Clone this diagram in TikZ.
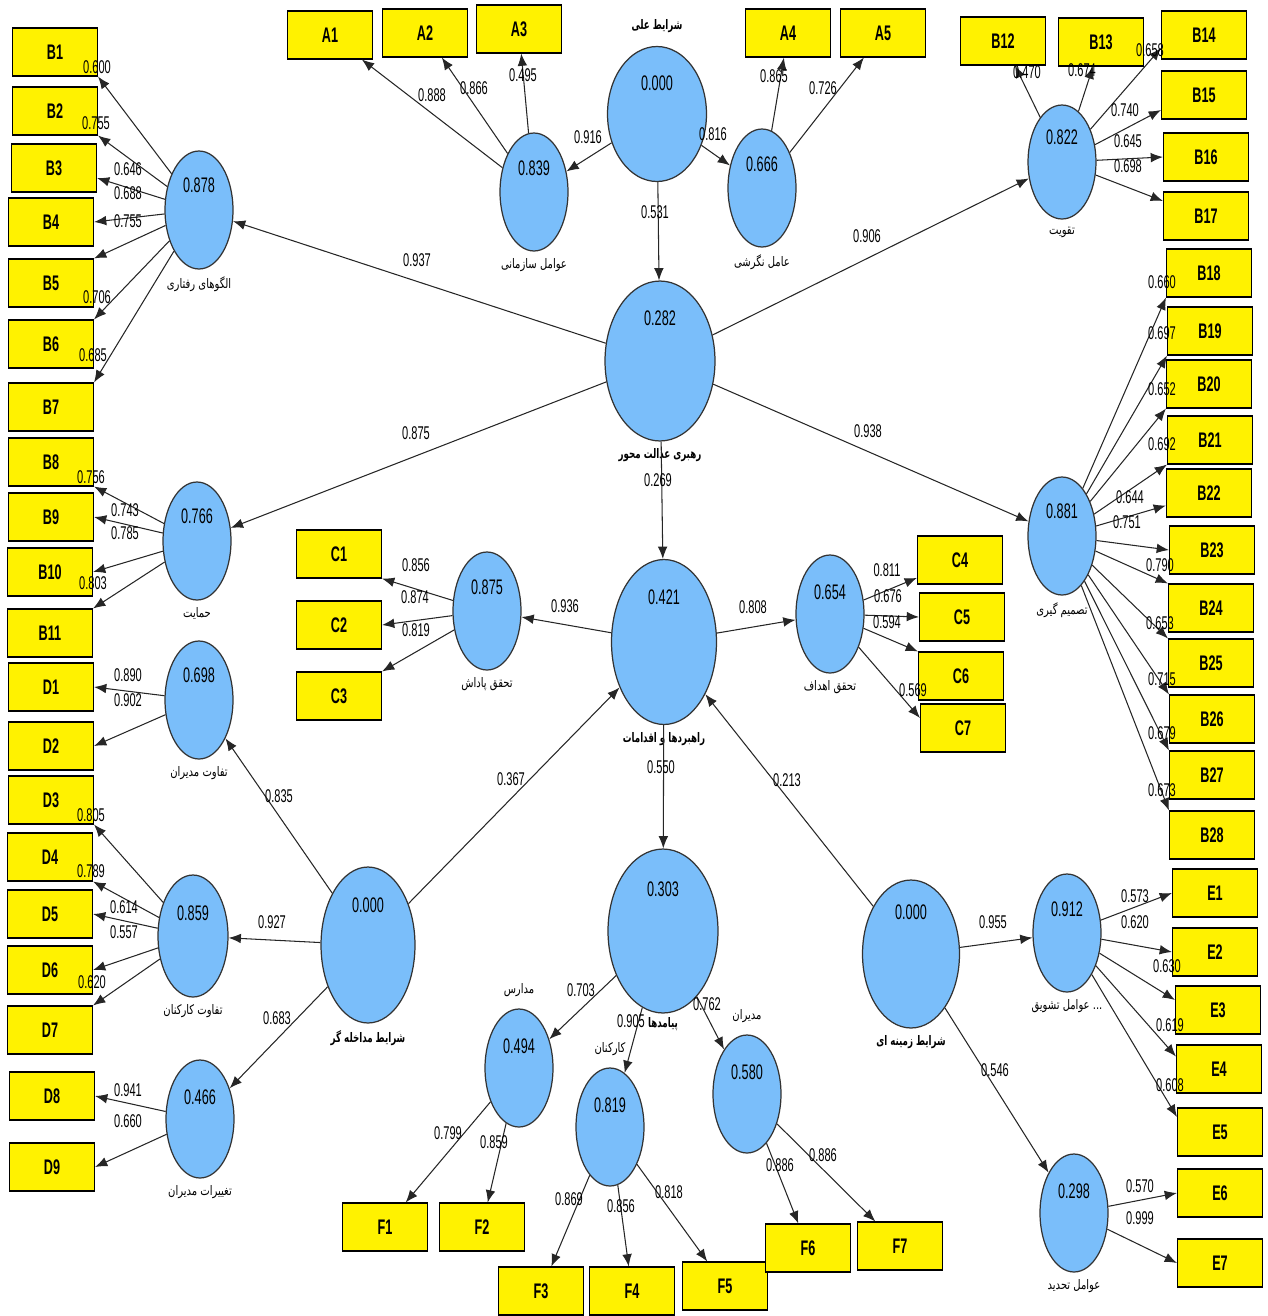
\documentclass[tikz,border=0pt]{standalone}
\usepackage{fontspec}
\usepackage{tikz}
\usetikzlibrary{shapes.geometric,arrows.meta,positioning}
\TeXXeTstate=1
\newfontfamily\numfont[FakeStretch=0.6]{Liberation Sans}
\newfontfamily\fafont[Script=Arabic,FakeStretch=0.76,BoldFeatures={FakeStretch=0.66}]{DejaVu Sans}
\newcommand{\fa}[1]{\beginR#1\endR}
\definecolor{latblue}{RGB}{122,190,250}

\tikzset{
  latent/.style={ellipse, draw=black!80, fill=latblue, line width=0.7pt, inner sep=0pt,
    minimum width=1.36cm, minimum height=2.36cm},
  indic/.style={rectangle, draw=black, fill=yellow, line width=0.6pt, minimum width=1.7cm,
    minimum height=0.96cm, font=\numfont\bfseries\fontsize{12}{12}\selectfont},
  lvval/.style={font=\numfont\fontsize{12}{12}\selectfont, inner sep=0pt},
  coef/.style={font=\numfont\fontsize{10.5}{10.5}\selectfont, inner sep=0pt},
  lvname/.style={font=\fafont\fontsize{7.5}{8}\selectfont, inner sep=1pt},
  lvbold/.style={font=\fafont\bfseries\fontsize{7.5}{8}\selectfont, inner sep=1pt},
  arr/.style={draw=black!85, line width=0.6pt, -{Latex[length=7pt,width=5.5pt]}},
}

\begin{document}
\begin{tikzpicture}[x=0.02cm,y=-0.02cm]

    \useasboundingbox (0,0) rectangle (1268,1316);

    % Latent variables: causal conditions
    \node[latent, minimum width=1.98cm, minimum height=2.7cm] (causal) at (657,114) {};
    \node[lvval] at ([yshift=0.62cm]causal.center) {0.000};
    \node[lvbold, above=0.22cm of causal] (causal-n) {\fa{شرایط علی}};

    \node[latent] (org) at (534,192) {};
    \node[lvval] at ([yshift=0.48cm]org.center) {0.839};
    \node[lvname, below=0.1cm of org] (org-n) {\fa{عوامل سازمانی}};

    \node[latent] (attit) at (762,188) {};
    \node[lvval] at ([yshift=0.48cm]attit.center) {0.666};
    \node[lvname, below=0.1cm of attit] (attit-n) {\fa{عامل نگرشی}};

    % Latent variables: leadership and its dimensions
    \node[latent, minimum width=2.2cm, minimum height=3.2cm] (leader) at (660,361) {};
    \node[lvval] at ([yshift=0.86cm]leader.center) {0.282};
    \node[lvbold, below=0.1cm of leader] (leader-n) {\fa{رهبری عدالت محور}};

    \node[latent, minimum height=2.28cm] (reinf) at (1062,162) {};
    \node[lvval] at ([yshift=0.5cm]reinf.center) {0.822};
    \node[lvname, below=0.1cm of reinf] (reinf-n) {\fa{تقویت}};

    \node[latent] (behav) at (199,210) {};
    \node[lvval] at ([yshift=0.5cm]behav.center) {0.878};
    \node[lvname, below=0.1cm of behav] (behav-n) {\fa{الگوهای رفتاری}};

    \node[latent] (support) at (197,541) {};
    \node[lvval] at ([yshift=0.5cm]support.center) {0.766};
    \node[lvname, below=0.1cm of support] (support-n) {\fa{حمایت}};

    \node[latent] (decis) at (1062,536) {};
    \node[lvval] at ([yshift=0.5cm]decis.center) {0.881};
    \node[lvname, below=0.1cm of decis] (decis-n) {\fa{تصمیم گیری}};

    % Latent variables: strategies
    \node[latent, minimum width=2.1cm, minimum height=3.3cm] (strat) at (664,642) {};
    \node[lvval] at ([yshift=0.9cm]strat.center) {0.421};
    \node[lvbold, below=0.1cm of strat] (strat-n) {\fa{راهبردها و اقدامات}};

    \node[latent] (reward) at (487,611) {};
    \node[lvval] at ([yshift=0.48cm]reward.center) {0.875};
    \node[lvname, below=0.1cm of reward] (reward-n) {\fa{تحقق پاداش}};

    \node[latent] (goals) at (830,614) {};
    \node[lvval] at ([yshift=0.44cm]goals.center) {0.654};
    \node[lvname, below=0.1cm of goals] (goals-n) {\fa{تحقق اهداف}};

    % Latent variables: intervening conditions
    \node[latent, minimum width=1.88cm, minimum height=3.12cm] (interv) at (368,945) {};
    \node[lvval] at ([yshift=0.8cm]interv.center) {0.000};
    \node[lvbold, below=0.1cm of interv] (interv-n) {\fa{شرایط مداخله گر}};

    \node[latent] (mgrdiff) at (199,700) {};
    \node[lvval] at ([yshift=0.5cm]mgrdiff.center) {0.698};
    \node[lvname, below=0.1cm of mgrdiff] (mgrdiff-n) {\fa{تفاوت مدیران}};

    \node[latent, minimum width=1.4cm, minimum height=2.44cm] (empdiff) at (193,936) {};
    \node[lvval] at ([yshift=0.46cm]empdiff.center) {0.859};
    \node[lvname, below=0.1cm of empdiff] (empdiff-n) {\fa{تفاوت کارکنان}};

    \node[latent] (mgrchg) at (200,1119) {};
    \node[lvval] at ([yshift=0.44cm]mgrchg.center) {0.466};
    \node[lvname, below=0.1cm of mgrchg] (mgrchg-n) {\fa{تغییرات مدیران}};

    % Latent variables: outcomes
    \node[latent, minimum width=2.2cm, minimum height=3.28cm] (outc) at (663,931) {};
    \node[lvval] at ([yshift=0.84cm]outc.center) {0.303};
    \node[lvbold, below=0.04cm of outc] (outc-n) {\fa{پیامدها}};

    \node[latent] (school) at (519,1068) {};
    \node[lvval] at ([yshift=0.44cm]school.center) {0.494};
    \node[lvname, above=0.2cm of school] (school-n) {\fa{مدارس}};

    \node[latent] (staff) at (610,1127) {};
    \node[lvval] at ([yshift=0.44cm]staff.center) {0.819};
    \node[lvname, above=0.2cm of staff] (staff-n) {\fa{کارکنان}};

    \node[latent] (mgr) at (747,1094) {};
    \node[lvval] at ([yshift=0.44cm]mgr.center) {0.580};
    \node[lvname, above=0.2cm of mgr] (mgr-n) {\fa{مدیران}};

    % Latent variables: contextual conditions
    \node[latent, minimum width=1.94cm, minimum height=2.96cm] (context) at (911,954) {};
    \node[lvval] at ([yshift=0.84cm]context.center) {0.000};
    \node[lvbold, below=0.1cm of context] (context-n) {\fa{شرایط زمینه ای}};

    \node[latent] (encour) at (1067,933) {};
    \node[lvval] at ([yshift=0.48cm]encour.center) {0.912};
    \node[lvname, below=0.1cm of encour] (encour-n) {\fa{عوامل تشویق} ...};

    \node[latent] (limit) at (1074,1213) {};
    \node[lvval] at ([yshift=0.44cm]limit.center) {0.298};
    \node[lvname, below=0.1cm of limit] (limit-n) {\fa{عوامل تحدید}};

    % Indicators A
    \node[indic] (A1) at (330,35) {A1};
    \node[indic] (A2) at (425,33) {A2};
    \node[indic] (A3) at (519,29) {A3};
    \node[indic] (A4) at (788,33) {A4};
    \node[indic] (A5) at (883,33) {A5};

    % Indicators B (left)
    \node[indic] (B1) at (55,52) {B1};
    \node[indic] (B2) at (55,111) {B2};
    \node[indic] (B3) at (54,168) {B3};
    \node[indic] (B4) at (51,222) {B4};
    \node[indic] (B5) at (51,283) {B5};
    \node[indic] (B6) at (51,344) {B6};
    \node[indic] (B7) at (51,407) {B7};
    \node[indic] (B8) at (51,462) {B8};
    \node[indic] (B9) at (51,517) {B9};
    \node[indic] (B10) at (50,572) {B10};
    \node[indic] (B11) at (50,633) {B11};

    % Indicators B (right)
    \node[indic] (B12) at (1003,41) {B12};
    \node[indic] (B13) at (1101,42) {B13};
    \node[indic] (B14) at (1204,35) {B14};
    \node[indic] (B15) at (1204,95) {B15};
    \node[indic] (B16) at (1206,157) {B16};
    \node[indic] (B17) at (1206,216) {B17};
    \node[indic] (B18) at (1209,273) {B18};
    \node[indic] (B19) at (1210,331) {B19};
    \node[indic] (B20) at (1209,384) {B20};
    \node[indic] (B21) at (1210,440) {B21};
    \node[indic] (B22) at (1209,493) {B22};
    \node[indic] (B23) at (1212,550) {B23};
    \node[indic] (B24) at (1211,608) {B24};
    \node[indic] (B25) at (1211,663) {B25};
    \node[indic] (B26) at (1212,719) {B26};
    \node[indic] (B27) at (1212,775) {B27};
    \node[indic] (B28) at (1212,835) {B28};

    % Indicators C
    \node[indic] (C1) at (339,554) {C1};
    \node[indic] (C2) at (339,625) {C2};
    \node[indic] (C3) at (339,696) {C3};
    \node[indic] (C4) at (960,560) {C4};
    \node[indic] (C5) at (962,617) {C5};
    \node[indic] (C6) at (961,676) {C6};
    \node[indic] (C7) at (963,728) {C7};

    % Indicators D
    \node[indic] (D1) at (51,687) {D1};
    \node[indic] (D2) at (51,746) {D2};
    \node[indic] (D3) at (51,800) {D3};
    \node[indic] (D4) at (50,857) {D4};
    \node[indic] (D5) at (50,914) {D5};
    \node[indic] (D6) at (50,970) {D6};
    \node[indic] (D7) at (50,1030) {D7};
    \node[indic] (D8) at (52,1096) {D8};
    \node[indic] (D9) at (52,1167) {D9};

    % Indicators E
    \node[indic] (E1) at (1215,893) {E1};
    \node[indic] (E2) at (1215,952) {E2};
    \node[indic] (E3) at (1218,1010) {E3};
    \node[indic] (E4) at (1219,1069) {E4};
    \node[indic] (E5) at (1220,1132) {E5};
    \node[indic] (E6) at (1220,1193) {E6};
    \node[indic] (E7) at (1220,1263) {E7};

    % Indicators F
    \node[indic] (F1) at (385,1227) {F1};
    \node[indic] (F2) at (482,1227) {F2};
    \node[indic] (F3) at (541,1291) {F3};
    \node[indic] (F4) at (632,1291) {F4};
    \node[indic] (F5) at (725,1286) {F5};
    \node[indic] (F6) at (808,1248) {F6};
    \node[indic] (F7) at (900,1246) {F7};

    % Path coefficients between latent variables
    \draw[arr] (causal) -- (org);      \node[coef] (p1) at (588,137) {0.916};
    \draw[arr] (causal) -- (attit);    \node[coef] (p2) at (713,134) {0.816};
    \draw[arr] (causal) -- (leader);   \node[coef] (p3) at (655,212) {0.531};
    \draw[arr] (leader) -- (behav);    \node[coef] (p4) at (417,260) {0.937};
    \draw[arr] (leader) -- (reinf);    \node[coef] (p5) at (867,236) {0.906};
    \draw[arr] (leader) -- (support);  \node[coef] (p6) at (416,433) {0.875};
    \draw[arr] (leader) -- (decis);    \node[coef] (p7) at (868,431) {0.938};
    \draw[arr] (leader) -- (strat);    \node[coef] (p8) at (658,480) {0.269};
    \draw[arr] (strat) -- (reward);    \node[coef] (p9) at (565,606) {0.936};
    \draw[arr] (strat) -- (goals);     \node[coef] (p10) at (753,607) {0.808};
    \draw[arr] (strat) -- (outc);      \node[coef] (p11) at (661,767) {0.550};
    \draw[arr] (interv) -- (mgrdiff);  \node[coef] (p12) at (279,796) {0.835};
    \draw[arr] (interv) -- (empdiff);  \node[coef] (p13) at (272,922) {0.927};
    \draw[arr] (interv) -- (mgrchg);   \node[coef] (p14) at (277,1018) {0.683};
    \draw[arr] (interv) -- (strat);    \node[coef] (p15) at (511,779) {0.367};
    \draw[arr] (context) -- (strat);   \node[coef] (p16) at (787,780) {0.213};
    \draw[arr] (context) -- (encour);  \node[coef] (p17) at (993,922) {0.955};
    \draw[arr] (context) -- (limit);   \node[coef] (p18) at (995,1070) {0.546};
    \draw[arr] (outc) -- (school);     \node[coef] (p19) at (581,990) {0.703};
    \draw[arr] (outc) -- (staff);      \node[coef] (p20) at (631,1021) {0.905};
    \draw[arr] (outc) -- (mgr);        \node[coef] (p21) at (707,1004) {0.762};

    % Outer loadings A
    \draw[arr] (org) -- (A1);    \node[coef] at (432,95) {0.888};
    \draw[arr] (org) -- (A2);    \node[coef] at (474,88) {0.866};
    \draw[arr] (org) -- (A3);    \node[coef] at (523,75) {0.495};
    \draw[arr] (attit) -- (A4);  \node[coef] at (774,76) {0.865};
    \draw[arr] (attit) -- (A5);  \node[coef] at (823,88) {0.726};

    % Outer loadings B
    \draw[arr] (behav) -- (B1.south east);    \node[coef] at (97,67) {0.600};
    \draw[arr] (behav) -- (B2.south east);    \node[coef] at (96,123) {0.755};
    \draw[arr] (behav) -- ([yshift=-0.2cm]B3.east); \node[coef] at (128,169) {0.646};
    \draw[arr] (behav) -- (B4.east);          \node[coef] at (128,193) {0.688};
    \draw[arr] (behav) -- (B5.north east);    \node[coef] at (128,221) {0.755};
    \draw[arr] (behav) -- (B6.north east);    \node[coef] at (97,297) {0.706};
    \draw[arr] (behav) -- (B7.north east);    \node[coef] at (93,355) {0.685};
    \draw[arr] (support) -- (B8.south east);  \node[coef] at (91,477) {0.756};
    \draw[arr] (support) -- (B9.east);        \node[coef] at (125,510) {0.743};
    \draw[arr] (support) -- (B10.east);       \node[coef] at (125,533) {0.785};
    \draw[arr] (support) -- (B11.north east); \node[coef] at (93,583) {0.803};
    \draw[arr] (reinf) -- (B12);              \node[coef] at (1027,72) {0.470};
    \draw[arr] (reinf) -- (B13);              \node[coef] at (1082,70) {0.674};
    \draw[arr] (reinf) -- ([yshift=-0.26cm]B14.west); \node[coef] at (1150,50) {0.658};
    \draw[arr] (reinf) -- ([yshift=-0.3cm]B15.west);  \node[coef] at (1125,110) {0.740};
    \draw[arr] (reinf) -- (B16.west);         \node[coef] at (1128,141) {0.645};
    \draw[arr] (reinf) -- ([yshift=0.3cm]B17.west);   \node[coef] at (1128,166) {0.698};
    \draw[arr] (decis) -- (B18.south west);   \node[coef] at (1162,282) {0.660};
    \draw[arr] (decis) -- (B19.south west);   \node[coef] at (1162,333) {0.697};
    \draw[arr] (decis) -- (B20.south west);   \node[coef] at (1162,389) {0.652};
    \draw[arr] (decis) -- (B21.south west);   \node[coef] at (1162,444) {0.692};
    \draw[arr] (decis) -- ([yshift=-0.25cm]B22.west); \node[coef] at (1130,497) {0.644};
    \draw[arr] (decis) -- (B23.west);         \node[coef] at (1127,522) {0.751};
    \draw[arr] (decis) -- (B24.north west);   \node[coef] at (1160,565) {0.790};
    \draw[arr] (decis) -- (B25.north west);   \node[coef] at (1160,623) {0.653};
    \draw[arr] (decis) -- (B26.north west);   \node[coef] at (1162,679) {0.715};
    \draw[arr] (decis) -- (B27.north west);   \node[coef] at (1162,733) {0.679};
    \draw[arr] (decis) -- (B28.north west);   \node[coef] at (1162,790) {0.673};

    % Outer loadings C
    \draw[arr] (reward) -- (C1.south east);  \node[coef] at (416,565) {0.856};
    \draw[arr] (reward) -- (C2.east);        \node[coef] at (415,597) {0.874};
    \draw[arr] (reward) -- (C3.north east);  \node[coef] at (416,630) {0.819};
    \draw[arr] (goals) -- (C4);              \node[coef] at (887,570) {0.811};
    \draw[arr] (goals) -- (C5.west);         \node[coef] at (888,596) {0.676};
    \draw[arr] (goals) -- (C6.north west);   \node[coef] at (887,622) {0.594};
    \draw[arr] (goals) -- ([yshift=0.2cm]C7.west); \node[coef] at (913,690) {0.569};

    % Outer loadings D
    \draw[arr] (mgrdiff) -- (D1.east);        \node[coef] at (128,675) {0.890};
    \draw[arr] (mgrdiff) -- (D2.east);        \node[coef] at (128,700) {0.902};
    \draw[arr] (empdiff) -- (D3.south east);  \node[coef] at (91,815) {0.805};
    \draw[arr] (empdiff) -- (D4.south east);  \node[coef] at (91,871) {0.789};
    \draw[arr] (empdiff) -- (D5.east);        \node[coef] at (124,907) {0.614};
    \draw[arr] (empdiff) -- (D6.east);        \node[coef] at (124,932) {0.557};
    \draw[arr] (empdiff) -- (D7.north east);  \node[coef] at (92,982) {0.620};
    \draw[arr] (mgrchg) -- (D8.east);         \node[coef] at (128,1090) {0.941};
    \draw[arr] (mgrchg) -- (D9.east);         \node[coef] at (128,1121) {0.660};

    % Outer loadings E
    \draw[arr] (encour) -- (E1.west);  \node[coef] at (1135,896) {0.573};
    \draw[arr] (encour) -- (E2.west);  \node[coef] at (1135,922) {0.620};
    \draw[arr] (encour) -- ([yshift=0.2cm]E3.west); \node[coef] at (1167,966) {0.630};
    \draw[arr] (encour) -- ([yshift=0.25cm]E4.west); \node[coef] at (1170,1025) {0.619};
    \draw[arr] (encour) -- ([yshift=0.3cm]E5.west);  \node[coef] at (1170,1085) {0.608};
    \draw[arr] (limit) -- (E6.west);   \node[coef] at (1140,1186) {0.570};
    \draw[arr] (limit) -- (E7.west);   \node[coef] at (1140,1218) {0.999};

    % Outer loadings F
    \draw[arr] (school) -- (F1);  \node[coef] at (448,1133) {0.799};
    \draw[arr] (school) -- (F2);  \node[coef] at (494,1142) {0.859};
    \draw[arr] (staff) -- (F3);   \node[coef] at (569,1199) {0.869};
    \draw[arr] (staff) -- (F4);   \node[coef] at (621,1206) {0.856};
    \draw[arr] (staff) -- (F5);   \node[coef] at (669,1192) {0.818};
    \draw[arr] (mgr) -- (F6);     \node[coef] at (780,1165) {0.886};
    \draw[arr] (mgr) -- (F7);     \node[coef] at (823,1155) {0.886};

\end{tikzpicture}
\end{document}
